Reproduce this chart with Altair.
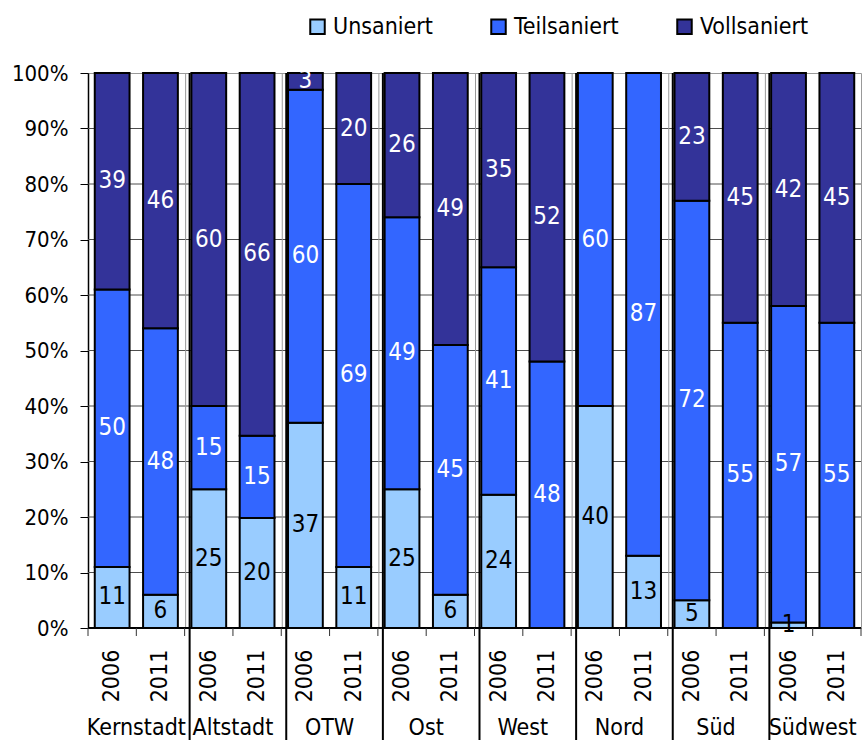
import altair as alt
import pandas as pd

# Sanierungsstand der Gebäude je Stadtteil (Anteile in %)
districts = ["Kernstadt", "Altstadt", "OTW", "Ost", "West", "Nord", "Süd", "Südwest"]
years = ["2006", "2011"]
categories = ["Unsaniert", "Teilsaniert", "Vollsaniert"]
colors = ["#99CCFF", "#3366FF", "#333399"]

# one value per bar: Kernstadt 2006, Kernstadt 2011, Altstadt 2006, ...
unsaniert = [11, 6, 25, 20, 37, 11, 25, 6, 24, 0, 40, 13, 5, 0, 1, 0]
teilsaniert = [50, 48, 15, 15, 60, 69, 49, 45, 41, 48, 60, 87, 72, 55, 57, 55]
vollsaniert = [39, 46, 60, 66, 3, 20, 26, 49, 35, 52, 0, 0, 23, 45, 42, 45]

y_ticks = [i / 10 for i in range(11)]

FONT = "DejaVu Sans Condensed, DejaVu Sans, sans-serif"

n_slots = len(districts) * len(years)

rows = []
for k in range(n_slots):
    for order, (cat, series) in enumerate(
        zip(categories, [unsaniert, teilsaniert, vollsaniert])
    ):
        rows.append(
            {
                "slot": k,
                "stadtteil": districts[k // 2],
                "jahr": years[k % 2],
                "kategorie": cat,
                "order": order,
                "value": series[k],
            }
        )
df = pd.DataFrame(rows)

slots = pd.DataFrame(
    {"slot": list(range(n_slots)), "jahr": [years[k % 2] for k in range(n_slots)]}
)
groups = pd.DataFrame({"stadtteil": districts, "g": list(range(len(districts)))})
bounds = pd.DataFrame({"b": list(range(n_slots + 1))})
group_bounds = pd.DataFrame({"b": [2 * j for j in range(1, len(districts))]})
grid_df = pd.DataFrame({"v": y_ticks})

xscale = alt.Scale(domain=[0, n_slots], nice=False, zero=False)
yscale = alt.Scale(domain=[0, 1], nice=False)

y_axis = alt.Axis(
    values=y_ticks,
    format=".0%",
    grid=False,
    title=None,
    domainColor="black",
    domainWidth=1.5,
    tickColor="black",
    tickSize=8,
    labelFont=FONT,
    labelFontSize=22,
    labelColor="black",
    labelPadding=12,
)

stacked = (
    alt.Chart(df)
    .transform_filter("datum.value > 0")
    .transform_stack(
        stack="value",
        groupby=["slot"],
        sort=[alt.SortField("order", order="ascending")],
        as_=["y0", "y1"],
        offset="normalize",
    )
    .transform_calculate(
        xa="datum.slot + 0.14",
        xb="datum.slot + 0.86",
        xm="datum.slot + 0.5",
        mid="(datum.y0 + datum.y1) / 2",
    )
)

# horizontal gridlines at 10 % … 90 %; this layer also carries the y axis
grid = (
    alt.Chart(grid_df)
    .transform_filter("datum.v > 0 && datum.v < 1")
    .mark_rule(color="#4d4d4d", strokeWidth=1)
    .encode(y=alt.Y("v:Q", scale=yscale, axis=y_axis))
)

group_gray = (
    alt.Chart(group_bounds)
    .mark_rule(color="#999999", strokeWidth=1, xOffset=1)
    .encode(
        x=alt.X("b:Q", scale=xscale, axis=None),
        y=alt.value(0),
        y2=alt.value(555),
    )
)

bars = stacked.mark_bar(stroke="black", strokeWidth=2).encode(
    x=alt.X("xa:Q", scale=xscale, axis=None),
    x2="xb:Q",
    y=alt.Y("y0:Q", scale=yscale),
    y2="y1:Q",
    color=alt.Color(
        "kategorie:N",
        scale=alt.Scale(domain=categories, range=colors),
        legend=alt.Legend(
            orient="none",
            legendX=218,
            legendY=-58,
            direction="horizontal",
            title=None,
            symbolType="square",
            symbolSize=210,
            symbolStrokeColor="black",
            symbolStrokeWidth=2,
            symbolOpacity=1,
            labelFont=FONT,
            labelFontSize=23,
            labelColor="black",
            labelOffset=4,
            columnPadding=54,
        ),
    ),
    order=alt.Order("order:Q"),
)

values = stacked.mark_text(font=FONT, fontSize=24, baseline="middle").encode(
    x=alt.X("xm:Q", scale=xscale, axis=None),
    y=alt.Y("mid:Q", scale=yscale),
    text="value:Q",
    color=alt.condition(
        alt.datum.kategorie == "Unsaniert", alt.value("black"), alt.value("white")
    ),
)

baseline = (
    alt.Chart(grid_df)
    .mark_rule(color="black", strokeWidth=1.5)
    .encode(y=alt.datum(0))
)

ticks = (
    alt.Chart(bounds)
    .mark_rule(color="#333333", strokeWidth=1)
    .encode(
        x=alt.X("b:Q", scale=xscale, axis=None),
        y=alt.value(555),
        y2=alt.value(563),
    )
)

separators = (
    alt.Chart(group_bounds)
    .mark_rule(color="black", strokeWidth=2, xOffset=5)
    .encode(
        x=alt.X("b:Q", scale=xscale, axis=None),
        y=alt.value(0),
        y2=alt.value(667),
    )
)

year_labels = (
    alt.Chart(slots)
    .transform_calculate(xm="datum.slot + 0.5")
    .mark_text(font=FONT, fontSize=23, angle=270, align="center", baseline="middle", color="black")
    .encode(x=alt.X("xm:Q", scale=xscale, axis=None), y=alt.value(603), text="jahr:N")
)

group_labels = (
    alt.Chart(groups)
    .transform_calculate(xm="2 * datum.g + 1")
    .mark_text(font=FONT, fontSize=23, align="center", baseline="alphabetic", color="black")
    .encode(x=alt.X("xm:Q", scale=xscale, axis=None), y=alt.value(662), text="stadtteil:N")
)

chart = (
    alt.layer(
        grid, group_gray, bars, values, baseline, ticks, separators, year_labels, group_labels
    )
    .properties(
        width=773,
        height=555,
        autosize=alt.AutoSizeParams(type="none"),
        padding={"left": 88, "top": 73, "right": 1, "bottom": 112},
    )
    .configure_view(stroke="#999999", strokeWidth=1)
)

chart.save("out.html", embed_options={"renderer": "svg", "actions": False})
